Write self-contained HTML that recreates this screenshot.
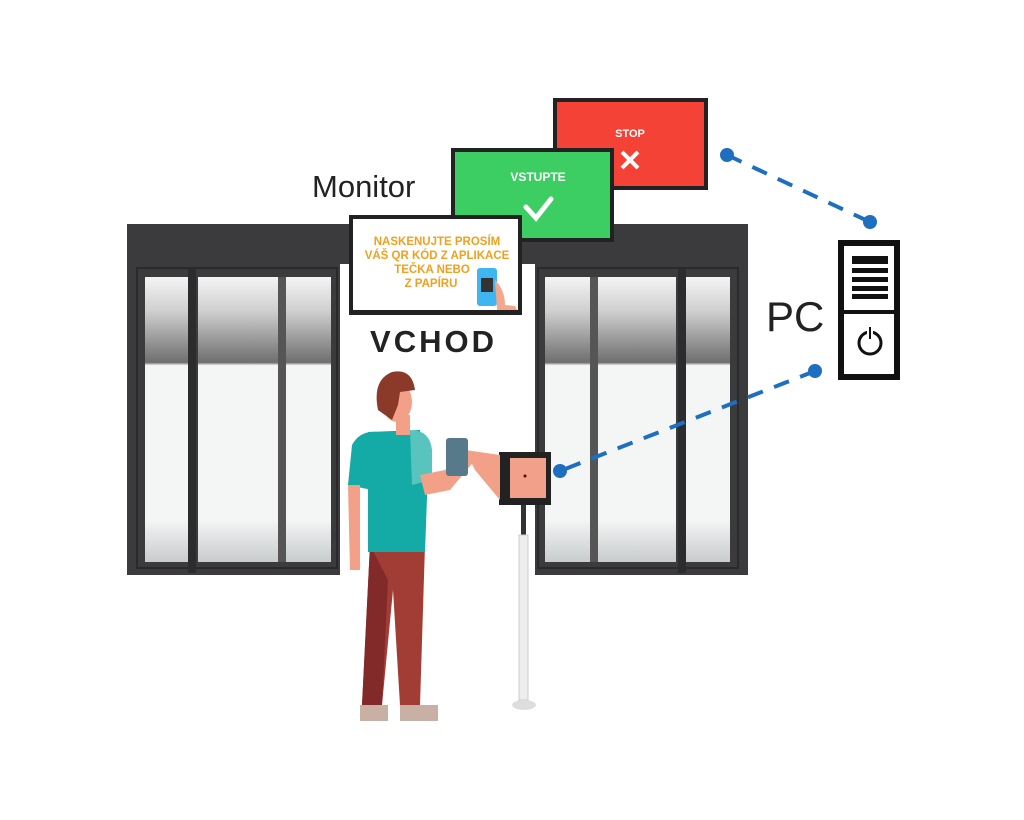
<!DOCTYPE html>
<html><head><meta charset="utf-8"><style>
body{margin:0;background:#fff;width:1024px;height:820px;overflow:hidden}
svg{display:block}
text{font-family:"Liberation Sans",sans-serif}
</style></head><body>
<svg width="1024" height="820" viewBox="0 0 1024 820">
<defs>
<linearGradient id="gl" x1="0" y1="0" x2="0" y2="1">
<stop offset="0" stop-color="#f4f4f4"/><stop offset="0.12" stop-color="#cfcfcf"/><stop offset="0.3" stop-color="#6e6e6e"/><stop offset="0.31" stop-color="#f4f5f5"/><stop offset="0.85" stop-color="#f4f5f5"/><stop offset="1" stop-color="#c9cccd"/>
</linearGradient>
</defs>
<rect x="127" y="224" width="621" height="42" fill="#3b3a3c"/>
<rect x="127" y="264" width="213" height="311" fill="#3b3a3c"/>
<rect x="535" y="264" width="213" height="311" fill="#3b3a3c"/>
<rect x="340" y="264" width="195" height="311" fill="#fff"/>
<rect x="137" y="268" width="200" height="300" fill="none" stroke="#2a292b" stroke-width="2"/>
<rect x="538" y="268" width="200" height="300" fill="none" stroke="#2a292b" stroke-width="2"/>
<g fill="url(#gl)">
<rect x="145" y="277" width="43" height="285"/><rect x="198" y="277" width="80" height="285"/><rect x="286" y="277" width="45" height="285"/>
<rect x="545" y="277" width="45" height="285"/><rect x="598" y="277" width="78" height="285"/><rect x="686" y="277" width="44" height="285"/>
</g>
<rect x="188" y="268" width="8" height="305" fill="#2c2b2d"/>
<rect x="278" y="277" width="8" height="285" fill="#555"/>
<rect x="590" y="277" width="8" height="285" fill="#555"/>
<rect x="678" y="268" width="8" height="305" fill="#2c2b2d"/>
<rect x="553" y="98" width="155" height="92" fill="#222"/>
<rect x="557" y="102" width="147" height="84" fill="#f44336"/>
<text x="630" y="137" text-anchor="middle" fill="#fff" font-size="11" font-weight="bold">STOP</text>
<path d="M622 152 L638 168 M638 152 L622 168" stroke="#fff" stroke-width="4"/>
<rect x="451" y="148" width="163" height="94" fill="#222"/>
<rect x="455" y="152" width="155" height="86" fill="#3ccd63"/>
<text x="538" y="181" text-anchor="middle" fill="#fff" font-size="12" font-weight="bold">VSTUPTE</text>
<path d="M526 207 L536 218 L551 199" stroke="#fff" stroke-width="5" fill="none" stroke-linecap="round"/>
<rect x="349" y="215" width="173" height="100" fill="#222"/>
<rect x="353" y="219" width="165" height="91" fill="#fff"/>
<g fill="#f0a020" font-size="11.5" font-weight="bold" text-anchor="middle">
<text x="437" y="245">NASKENUJTE PROSÍM</text>
<text x="437" y="259">VÁŠ QR KÓD Z APLIKACE</text>
<text x="432" y="273">TEČKA NEBO</text>
<text x="431" y="287">Z PAPÍRU</text>
</g>
<rect x="477" y="268" width="20" height="38" rx="3" fill="#3fb6f0"/>
<rect x="481" y="278" width="12" height="14" fill="#333"/>
<path d="M495 280 Q505 290 505 305 L515 306 L517 310 L497 310Z" fill="#f2a88c"/>
<text x="312" y="197" font-size="31" fill="#222">Monitor</text>
<text x="766" y="331" font-size="42" fill="#222">PC</text>
<text x="432" y="352" text-anchor="middle" font-size="31" font-weight="bold" fill="#222" textLength="124">VCHOD</text>
<rect x="838" y="240" width="62" height="140" fill="#111"/>
<rect x="844" y="246" width="50" height="128" fill="#fff"/>
<g fill="#111"><rect x="852" y="256" width="36" height="8"/><rect x="852" y="268" width="36" height="5"/><rect x="852" y="277" width="36" height="5"/><rect x="852" y="286" width="36" height="5"/><rect x="852" y="294" width="36" height="5"/></g>
<rect x="844" y="310" width="50" height="4" fill="#111"/>
<circle cx="870" cy="343" r="11" fill="none" stroke="#111" stroke-width="3"/>
<rect x="868" y="326" width="4" height="14" fill="#111" stroke="#fff" stroke-width="2"/>
<path d="M727 155 L870 222" stroke="#1f6fc0" stroke-width="4" stroke-dasharray="16 12"/>
<path d="M815 371 L560 471" stroke="#1f6fc0" stroke-width="4" stroke-dasharray="16 12"/>
<g fill="#1f6fc0"><circle cx="727" cy="155" r="7"/><circle cx="870" cy="222" r="7"/><circle cx="815" cy="371" r="7"/><circle cx="560" cy="471" r="7"/></g>
<rect x="521" y="505" width="5" height="30" fill="#333"/>
<rect x="519" y="535" width="9" height="165" fill="#eee" stroke="#ccc"/>
<ellipse cx="524" cy="705" rx="12" ry="5" fill="#ddd"/>
<rect x="499" y="452" width="52" height="53" fill="#222"/>
<rect x="510" y="458" width="36" height="40" fill="#f3a08a"/>
<circle cx="525" cy="476" r="1.5" fill="#600"/>
<path d="M370 545 L362 705 L382 705 L393 590 L400 705 L420 705 L425 545Z" fill="#a23d36"/>
<path d="M370 545 L362 705 L382 705 L388 580 Z" fill="#82292a"/>
<rect x="360" y="705" width="28" height="16" fill="#c8b0a4"/><rect x="400" y="705" width="38" height="16" fill="#c8b0a4"/>
<path d="M368 432 L420 430 L428 470 L425 552 L368 552Z" fill="#14aaa6"/>
<path d="M352 445 Q360 430 378 432 L372 490 L348 485Z" fill="#14aaa6"/>
<path d="M348 485 L360 485 L360 570 L350 570Z" fill="#f2a088"/>
<path d="M410 430 Q430 430 432 450 L432 480 L412 485Z" fill="#58c4bd"/>
<path d="M420 475 L445 470 L468 450 L475 460 L450 490 L425 495Z" fill="#f2a088"/>
<path d="M465 450 L500 455 L500 500 L475 470Z" fill="#f2a088"/>
<rect x="446" y="438" width="22" height="38" rx="3" fill="#567a8a"/>
<rect x="396" y="415" width="14" height="20" fill="#f2a088"/>
<ellipse cx="397" cy="402" rx="15" ry="20" fill="#f2a088"/>
<path d="M378 410 Q372 380 392 372 Q412 368 415 390 L400 392 L398 405 L392 420 Z" fill="#8b3a2a"/>
</svg>
</body></html>
